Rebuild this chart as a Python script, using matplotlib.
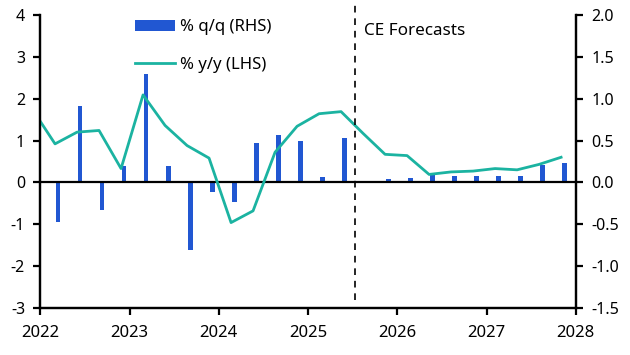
import numpy as np
import matplotlib
matplotlib.use("Agg")
import matplotlib.pyplot as plt

plt.rcParams['font.family'] = ['Noto Sans', 'DejaVu Sans']
plt.rcParams['axes.unicode_minus'] = False

# Quarterly data, 2022Q1 - 2027Q4
quarters = [f"{y}Q{q}" for y in range(2022, 2028) for q in range(1, 5)]
qq_rhs = [-0.47, 0.91, -0.33, 0.20,
          1.30, 0.19, -0.81, -0.12,
          -0.23, 0.47, 0.56, 0.50,
          0.07, 0.53, 0.0, 0.035,
          0.05, 0.085, 0.08, 0.08,
          0.08, 0.08, 0.21, 0.23]
# y/y series starts one quarter earlier (2021Q4)
yy_lhs = [1.72,
          0.92, 1.20, 1.24, 0.33,
          2.09, 1.36, 0.88, 0.58,
          -0.96, -0.68, 0.72, 1.34,
          1.64, 1.69, 1.17, 0.67,
          0.64, 0.19, 0.25, 0.27,
          0.33, 0.30, 0.43, 0.60]
year_ticks = [2022, 2023, 2024, 2025, 2026, 2027, 2028]
forecast_start = 2025.53

bar_col = "#2157d2"
line_col = "#1bb3a1"

# x positions (decimal years)
x_bar = np.linspace(2022.2, 2027.87, len(quarters))
x_line = np.concatenate([[x_bar[0] - 0.2465], x_bar]) - 0.035

fig = plt.figure(figsize=(6.3, 3.55), dpi=100)
ax1 = fig.add_axes([0.064, 0.1324, 0.850, 0.8256])
ax2 = ax1.twinx()
ax1.set_zorder(ax2.get_zorder() + 1)
ax1.patch.set_visible(False)

bars = ax2.bar(x_bar, qq_rhs, width=0.052, color=bar_col, label="% q/q (RHS)")
line, = ax1.plot(x_line, yy_lhs, color=line_col, lw=2.0, label="% y/y (LHS)")

ax1.axhline(0, color="black", lw=1.6, zorder=1)

ax1.set_xlim(2022, 2028)
ax1.set_ylim(-3, 4)
ax2.set_ylim(-1.5, 2.0)
ax1.set_xticks(year_ticks)
ax1.set_yticks(range(-3, 5))
ax2.set_yticks(np.arange(-1.5, 2.01, 0.5))
ax2.set_yticklabels([f"{v:.1f}" for v in np.arange(-1.5, 2.01, 0.5)])

for ax in (ax1, ax2):
    ax.spines['top'].set_visible(False)
    for s in ('left', 'right', 'bottom'):
        ax.spines[s].set_linewidth(1.6)
    ax.tick_params(width=1.6, length=5, labelsize=11.5, direction='out')
ax1.tick_params(axis='x', pad=7, labelsize=12)
ax1.tick_params(axis='y', pad=6)
ax2.tick_params(axis='y', pad=6)

# forecast marker
ax1.axvline(forecast_start, ymin=0.027, ymax=1.034, color="black", lw=1.2,
            ls=(0, (4, 3.5)), clip_on=False)
ax1.text(forecast_start + 0.1, 3.62, "CE Forecasts", fontsize=12.3, va="center", ha="left")

ax1.legend([bars, line], ["% q/q (RHS)", "% y/y (LHS)"], frameon=False,
           loc="upper left", bbox_to_anchor=(0.1766, 0.985), fontsize=12,
           borderpad=0, borderaxespad=0,
           handlelength=2.4, labelspacing=1.3, handletextpad=0.3)

fig.savefig("out.png", dpi=100)
